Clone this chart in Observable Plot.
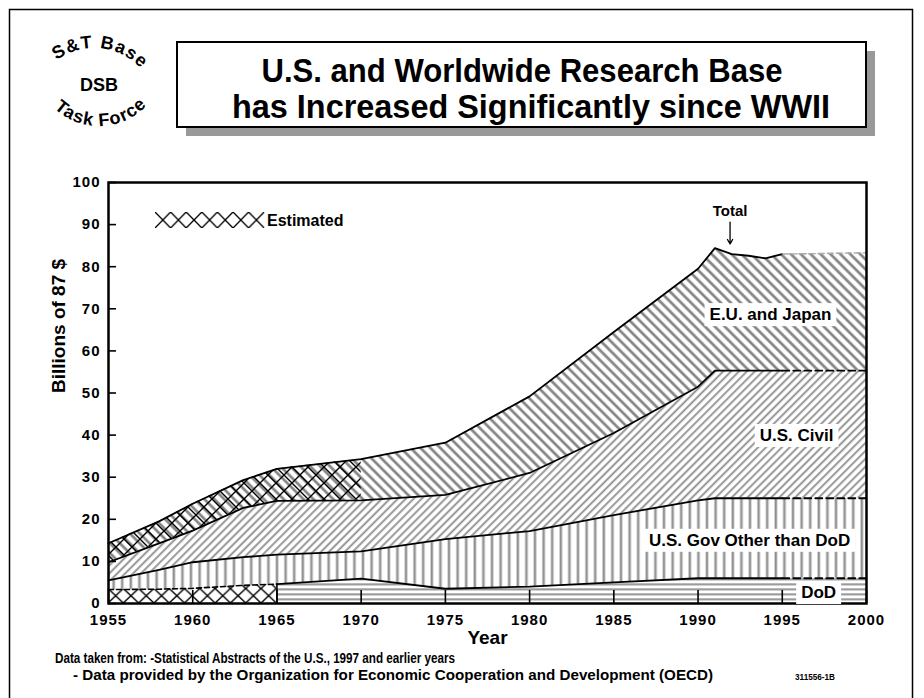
<!DOCTYPE html>
<html><head><meta charset="utf-8">
<script src="https://cdn.jsdelivr.net/npm/d3@7"></script>
<script src="https://cdn.jsdelivr.net/npm/@observablehq/plot@0.6"></script>
<style>
body{margin:0;background:#fff;}
#wrap{position:relative;width:924px;height:698px;overflow:hidden;font-family:"Liberation Sans",Arial,sans-serif;}
#wrap > svg{position:absolute;left:0;top:0;}
g[aria-label="x-axis tick label"] text, g[aria-label="y-axis tick label"] text{letter-spacing:1px;}
</style></head><body><div id="wrap"></div>
<script>
// ---- data (billions of 1987 $, cumulative levels) ----
const years      = [1955, 1958, 1960, 1963, 1965, 1970, 1975, 1980, 1985, 1990, 1991, 1992, 1993, 1994, 1995, 2000];
const dod        = [3.3, 3.4, 3.6, 4.3, 4.6, 5.9, 3.5, 4.0, 5.0, 6.0, 6.0, 6.0, 6.0, 6.0, 6.0, 6.0];
const usGov      = [5.5, 8.0, 9.8, 11.0, 11.6, 12.4, 15.3, 17.2, 21.0, 24.5, 25.0, 25.0, 25.0, 25.0, 25.0, 25.0];
const usTotal    = [9.8, 14.3, 17.3, 22.7, 24.4, 24.5, 25.8, 31.0, 40.5, 51.5, 55.3, 55.3, 55.3, 55.3, 55.3, 55.3];
const worldTotal = [14.3, 19.5, 23.7, 29.3, 32.0, 34.3, 38.2, 49.2, 64.5, 79.5, 84.4, 83.0, 82.6, 82.0, 83.0, 83.3];
const lastObserved = 1995;
const dodEstimatedUntil = 1965;
const worldEstimatedUntil = 1970;
const xTicks = [1955, 1960, 1965, 1970, 1975, 1980, 1985, 1990, 1995, 2000];
const yTicks = [0, 10, 20, 30, 40, 50, 60, 70, 80, 90, 100];
const seriesLabels = ["E.U. and Japan", "U.S. Civil", "U.S. Gov Other than DoD", "DoD"];

const rows = years.map((year, i) => ({year, dod: dod[i], usGov: usGov[i], usTotal: usTotal[i], total: worldTotal[i]}));
const observed = rows.filter(d => d.year <= lastObserved);
const projected = rows.filter(d => d.year >= lastObserved);
const dodEst = rows.filter(d => d.year <= dodEstimatedUntil);
const dodObs = rows.filter(d => d.year >= dodEstimatedUntil);
const dodObsLine = dodObs.filter(d => d.year <= lastObserved);
const worldEst = rows.filter(d => d.year <= worldEstimatedUntil);

const defsMark = () => {
  const g = d3.create("svg:g");
  g.html(`<defs>
    <pattern id="pEU" patternUnits="userSpaceOnUse" width="7" height="7" patternTransform="rotate(-45)">
      <rect width="7" height="7" fill="#fff"/><rect x="0" width="3.2" height="7" fill="#c4c4c4"/><rect x="0.6" width="2" height="7" fill="#7c7c7c"/>
    </pattern>
    <pattern id="pCiv" patternUnits="userSpaceOnUse" width="5.6" height="5.6" patternTransform="rotate(45)">
      <rect width="5.6" height="5.6" fill="#fff"/><rect x="0" width="2.4" height="5.6" fill="#cfcfcf"/><rect x="0.5" width="1.4" height="5.6" fill="#8e8e8e"/>
    </pattern>
    <pattern id="pGov" patternUnits="userSpaceOnUse" width="8.6" height="10">
      <rect width="8.6" height="10" fill="#fff"/><rect x="0" width="3.6" height="10" fill="#d2d2d2"/><rect x="1" width="1.6" height="10" fill="#8c8c8c"/>
    </pattern>
    <pattern id="pDod" patternUnits="userSpaceOnUse" width="10" height="5" y="603">
      <rect width="10" height="5" fill="#fff"/><rect y="0" width="10" height="2.8" fill="#d0d0d0"/><rect y="0.6" width="10" height="1.5" fill="#9a9a9a"/>
    </pattern>
    <pattern id="pX" patternUnits="userSpaceOnUse" width="16" height="16" x="108" y="187">
      <path d="M-1,-1L17,17M17,-1L-1,17" stroke="#000" stroke-width="1.4" fill="none"/>
    </pattern>
    <pattern id="pXs" patternUnits="userSpaceOnUse" width="15.3" height="14.5" x="108" y="588.5">
      <path d="M-1,-0.95L16.3,15.45M16.3,-0.95L-1,15.45" stroke="#000" stroke-width="1.4" fill="none"/>
    </pattern>
    <pattern id="pXleg" patternUnits="userSpaceOnUse" width="15.6" height="16" x="155" y="212">
      <path d="M-1,-1L16.6,17M16.6,-1L-1,17" stroke="#000" stroke-width="1.4" fill="none"/>
    </pattern>
  </defs>`);
  return g.node();
};

const lineStyle = {x: "year", stroke: "black", strokeWidth: 1.8};
const dashStyle = {x: "year", stroke: "black", strokeWidth: 1.8, strokeDasharray: "7,4"};
const labelStyle = {fontSize: 17, fontWeight: "bold", fill: "black"};

const chart = Plot.plot({
  width: 924, height: 698,
  marginLeft: 108, marginRight: 58, marginTop: 182, marginBottom: 95,
  x: {domain: [1955, 2000]},
  y: {domain: [0, 100]},
  style: {fontFamily: "'Liberation Sans', Arial, sans-serif", fontWeight: "bold", background: "transparent", overflow: "visible"},
  marks: [
    defsMark,
    // bands
    Plot.areaY(dodEst, {x: "year", y1: 0, y2: "dod", fill: "white"}),
    Plot.areaY(dodEst, {x: "year", y1: 0, y2: "dod", fill: "url(#pXs)"}),
    Plot.areaY(dodObs, {x: "year", y1: 0, y2: "dod", fill: "url(#pDod)"}),
    Plot.areaY(rows, {x: "year", y1: "dod", y2: "usGov", fill: "url(#pGov)"}),
    Plot.areaY(rows, {x: "year", y1: "usGov", y2: "usTotal", fill: "url(#pCiv)"}),
    Plot.areaY(rows, {x: "year", y1: "usTotal", y2: "total", fill: "url(#pEU)"}),
    Plot.areaY(worldEst, {x: "year", y1: "usTotal", y2: "total", fill: "url(#pX)"}),
    // boundary lines
    Plot.lineY(dodEst, {x: "year", y: "dod", stroke: "black", strokeWidth: 1.6, strokeDasharray: "5,3"}),
    Plot.ruleX(rows.filter(d => d.year === dodEstimatedUntil), {x: "year", y1: 0, y2: "dod", stroke: "black", strokeWidth: 1.6}),
    Plot.lineY(dodObsLine, {...lineStyle, y: "dod"}),
    Plot.lineY(observed, {...lineStyle, y: "usGov"}),
    Plot.lineY(observed, {...lineStyle, y: "usTotal"}),
    Plot.lineY(observed, {...lineStyle, y: "total"}),
    Plot.lineY(projected, {...dashStyle, y: "dod"}),
    Plot.lineY(projected, {...dashStyle, y: "usGov"}),
    Plot.lineY(projected, {...dashStyle, y: "usTotal"}),
    Plot.lineY(projected, {x: "year", y: "total", stroke: "#aaa", strokeWidth: 1.4, strokeDasharray: "6,3"}),
    // frame and axes
    Plot.frame({stroke: "black", strokeWidth: 2.5}),
    Plot.axisY(yTicks, {tickSize: 8, dx: 8, fill: "none", stroke: "black", strokeWidth: 1.6}),
    Plot.axisY(yTicks, {tickSize: 0, tickPadding: 8, fontSize: 15, fontWeight: "bold", fill: "black", label: null}),
    Plot.axisX(xTicks, {tickSize: 13, dy: -13, fill: "none", stroke: "black", strokeWidth: 1.6}),
    Plot.axisX(xTicks, {tickSize: 0, tickPadding: 11, fontSize: 15, fontWeight: "bold", fill: "black", tickFormat: d => String(d), label: null}),
    Plot.text(["Billions of 87 $"], {frameAnchor: "left", dx: -50, rotate: -90, fontSize: 19, fontWeight: "bold", fill: "black"}),
    Plot.text(["Year"], {frameAnchor: "bottom", dy: 40, fontSize: 19, fontWeight: "bold", fill: "black"}),
    // annotations
    Plot.text([seriesLabels[0]], {x: 1994.3, y: 68.6, ...labelStyle}),
    Plot.text([seriesLabels[1]], {x: 1995.85, y: 39.9, ...labelStyle}),
    Plot.text([seriesLabels[2]], {x: 1993.06, y: 15.0, ...labelStyle}),
    Plot.text([seriesLabels[3]], {x: 1997.16, y: 2.6, ...labelStyle}),
    Plot.text(["Total"], {x: 1991.9, y: 93.1, fontSize: 15, fontWeight: "bold", fill: "black"}),
    Plot.arrow([0], {x1: 1991.9, x2: 1991.9, y1: 90.6, y2: 85.4, stroke: "black", strokeWidth: 1.3, headLength: 6})
  ]
});
chart.style.background = "white";
const wrap = document.getElementById("wrap");
wrap.appendChild(chart);

// white boxes behind the series labels
d3.select(chart).selectAll("text").filter(function() { return seriesLabels.includes(this.textContent); }).each(function() {
  const b = this.getBBox();
  const padX = 5, padY = 2;
  const r = document.createElementNS("http://www.w3.org/2000/svg", "rect");
  r.setAttribute("x", b.x - padX); r.setAttribute("y", b.y - padY);
  r.setAttribute("width", b.width + 2 * padX); r.setAttribute("height", b.height + 2 * padY);
  r.setAttribute("fill", "white"); r.setAttribute("stroke", "none");
  const t = this.getAttribute("transform");
  if (t) r.setAttribute("transform", t);
  this.parentNode.insertBefore(r, this);
});

// page decorations: border, logo, title box, legend, source notes
const deco = d3.select(wrap).append("svg").attr("width", 924).attr("height", 698)
  .style("font-family", "'Liberation Sans', Arial, sans-serif").style("font-weight", "bold");
deco.append("rect").attr("x", 9.5).attr("y", 9.5).attr("width", 903).attr("height", 720)
  .attr("fill", "none").attr("stroke", "black").attr("stroke-width", 1.5);

// logo
const arc = (cx, cy, r, a0, a1, sweep) => {
  const p = a => [cx + r * Math.cos(a * Math.PI / 180), cy + r * Math.sin(a * Math.PI / 180)];
  const [x0, y0] = p(a0), [x1, y1] = p(a1);
  return `M${x0},${y0}A${r},${r} 0 0 ${sweep} ${x1},${y1}`;
};
const ld = deco.append("defs");
ld.append("path").attr("id", "arcTop").attr("d", arc(94, 112, 64, 200, 352, 1));
ld.append("path").attr("id", "arcBot").attr("d", arc(99, 60, 66, 160, 16, 0));
deco.append("text").attr("font-size", 18).attr("text-anchor", "middle").attr("letter-spacing", 1.2)
  .append("textPath").attr("href", "#arcTop").attr("startOffset", "50%").text("S&T Base");
deco.append("text").attr("font-size", 18).attr("text-anchor", "middle").attr("letter-spacing", 1)
  .append("textPath").attr("href", "#arcBot").attr("startOffset", "50%").text("Task Force");
deco.append("text").attr("x", 99).attr("y", 91).attr("font-size", 18).attr("text-anchor", "middle").text("DSB");

// title box
deco.append("rect").attr("x", 186).attr("y", 51).attr("width", 689).attr("height", 85).attr("fill", "#999");
deco.append("rect").attr("x", 177).attr("y", 42).attr("width", 689).attr("height", 85).attr("fill", "white").attr("stroke", "black").attr("stroke-width", 2);
deco.append("text").attr("x", 522).attr("y", 82).attr("font-size", 34).attr("text-anchor", "middle")
  .attr("textLength", 521).attr("lengthAdjust", "spacingAndGlyphs").text("U.S. and Worldwide Research Base");
deco.append("text").attr("x", 531).attr("y", 118).attr("font-size", 34).attr("text-anchor", "middle")
  .attr("textLength", 598).attr("lengthAdjust", "spacingAndGlyphs").text("has Increased Significantly since WWII");

// legend
deco.append("rect").attr("x", 155).attr("y", 212).attr("width", 109.2).attr("height", 16).attr("fill", "url(#pXleg)");
deco.append("text").attr("x", 267).attr("y", 226).attr("font-size", 16).text("Estimated");

// notes
deco.append("text").attr("x", 55).attr("y", 663).attr("font-size", 14)
  .attr("textLength", 400).attr("lengthAdjust", "spacingAndGlyphs")
  .text("Data taken from: -Statistical Abstracts of the U.S., 1997 and earlier years");
deco.append("text").attr("x", 73).attr("y", 680).attr("font-size", 14)
  .attr("textLength", 640).attr("lengthAdjust", "spacingAndGlyphs")
  .text("- Data provided by the Organization for Economic Cooperation and Development  (OECD)");
deco.append("text").attr("x", 795).attr("y", 680).attr("font-size", 8.5)
  .attr("textLength", 40).attr("lengthAdjust", "spacingAndGlyphs").text("311556-1B");
</script></body></html>
